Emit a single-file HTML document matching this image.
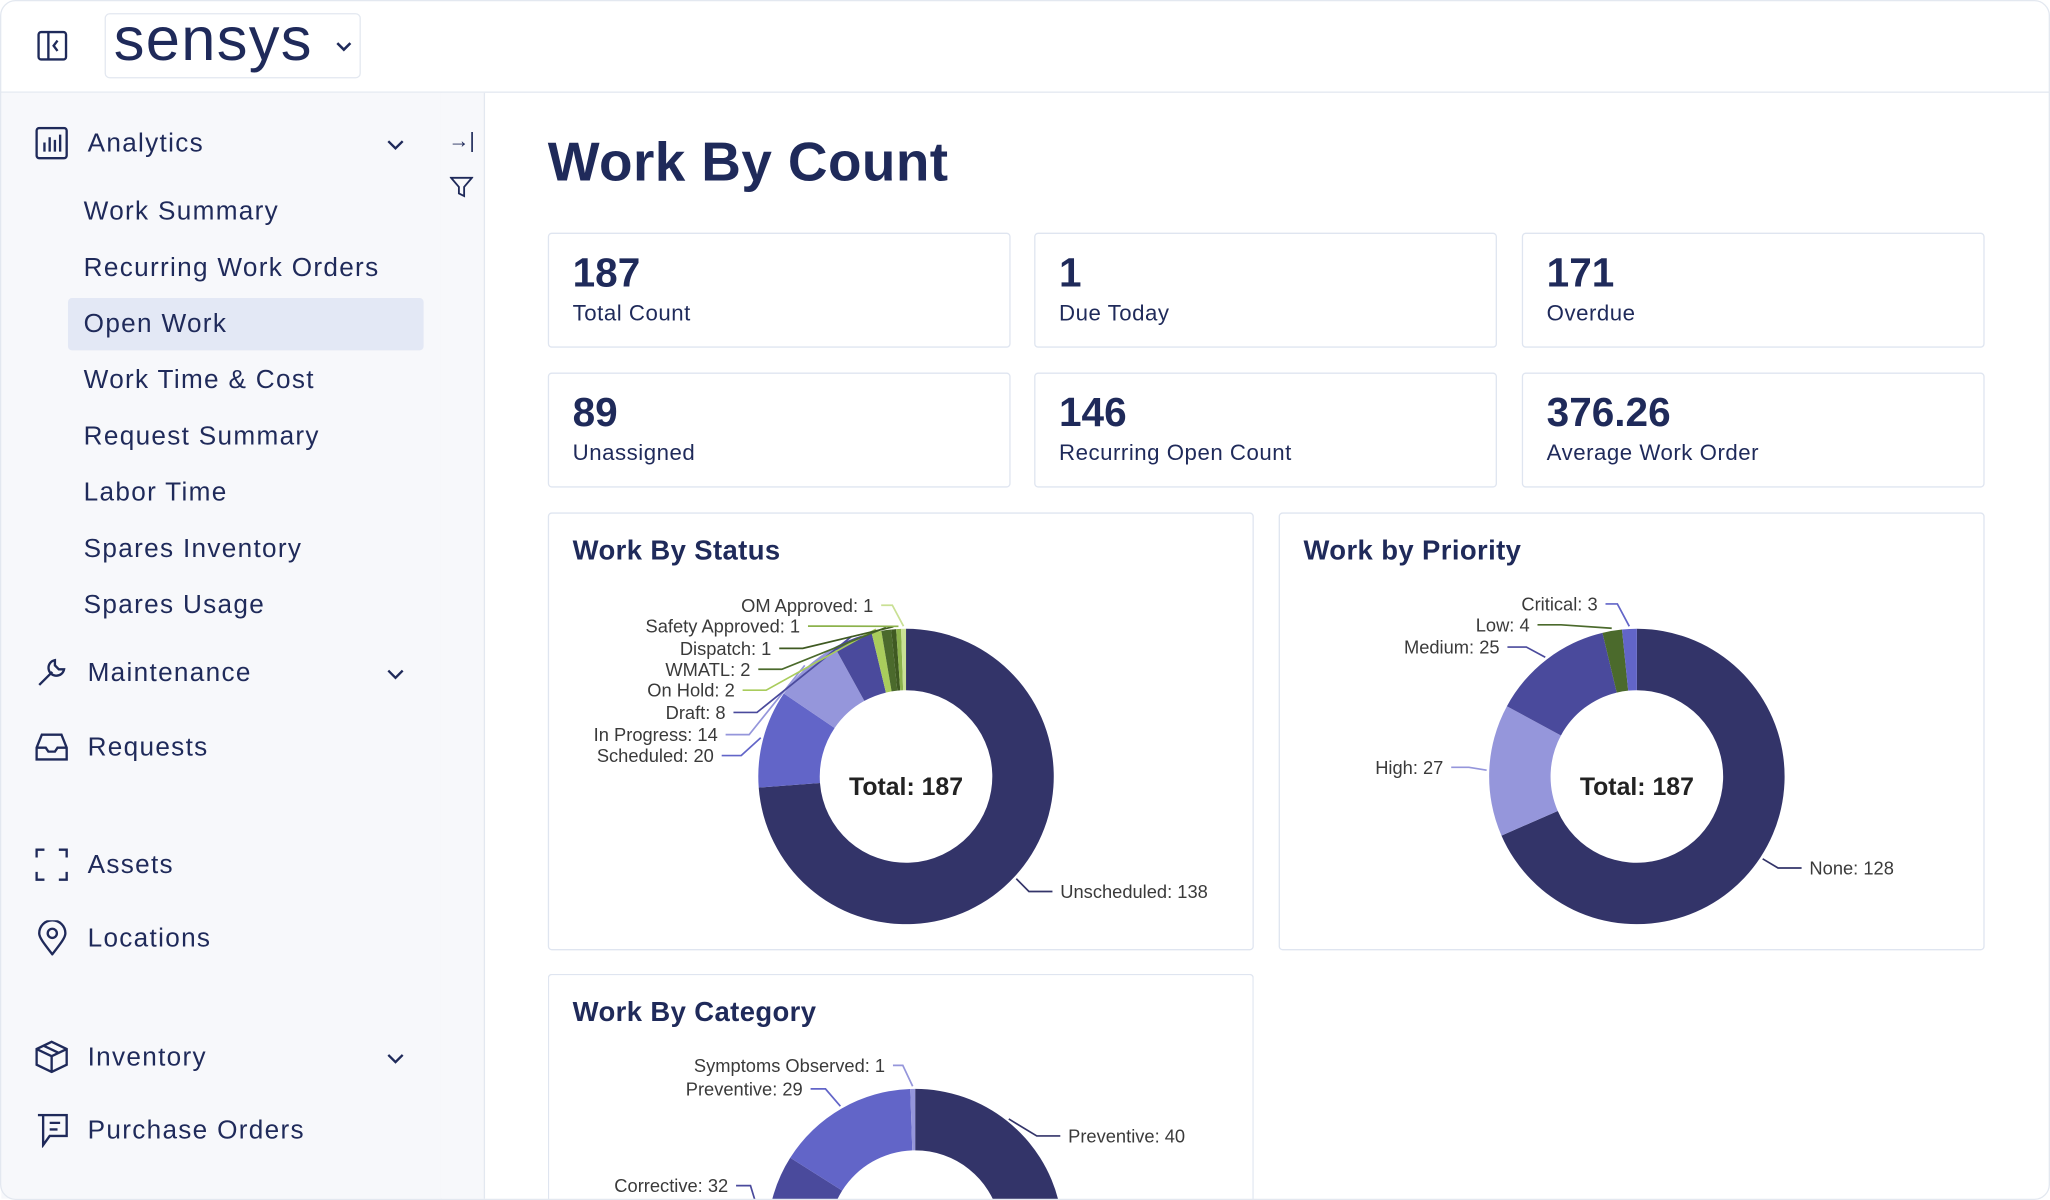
<!DOCTYPE html>
<html><head><meta charset="utf-8"><style>
html,body{margin:0;padding:0;width:2050px;height:1200px;overflow:hidden;background:#fff}
#root{position:absolute;left:0;top:0;width:1568px;height:918px;overflow:hidden;transform:scale(1.30740,1.30719);transform-origin:0 0;font-family:"Liberation Sans",sans-serif;color:#1f2a5a;background:#fff}
.abs{position:absolute}
.nav{position:absolute;font-size:20px;letter-spacing:1px;color:#1f2a5a}
.sub{position:absolute;left:64px;font-size:20px;letter-spacing:1px;color:#1f2a5a}
.card{position:absolute;border:1px solid #dfe5f0;border-radius:3px;background:#fff;box-sizing:border-box}
.num{position:absolute;left:18px;top:12px;font-size:31px;font-weight:bold;color:#1f2a5a}
.lbl{position:absolute;left:18px;top:51px;font-size:17px;letter-spacing:0.4px;color:#1f2a5a}
.ctitle{position:absolute;left:18px;top:17px;font-size:21px;font-weight:bold;color:#1f2a5a;letter-spacing:0.3px}
svg text{font-family:"Liberation Sans",sans-serif}
</style></head><body>
<div id="root">
  <div class="abs" style="left:0;top:0;width:1568px;height:70px;border-bottom:1px solid #e3e8f0"></div>
  <svg class="abs" style="left:28px;top:23px" width="24" height="24" viewBox="0 0 24 24"><rect x="1.5" y="1.5" width="21" height="21" rx="2" fill="none" stroke="#1f2a5a" stroke-width="1.8"/><line x1="9" y1="2" x2="9" y2="22" stroke="#1f2a5a" stroke-width="1.8"/><path d="M16 8 L13 12 L16 16" fill="none" stroke="#1f2a5a" stroke-width="1.8"/></svg>
  <div class="abs" style="left:80px;top:10px;width:196px;height:50px;border:1px solid #e3e8f0;border-radius:4px;box-sizing:border-box"></div>
  <div class="abs" style="left:87px;top:2px;font-size:47px;line-height:56px;color:#1f2a5a;letter-spacing:1px">sensys</div>
  <svg class="abs" style="left:256px;top:31px" width="14" height="10"><path d="M2 2 L7 7 L12 2" fill="none" stroke="#1f2a5a" stroke-width="2"/></svg>

  <div class="abs" style="left:1px;top:71px;width:336px;height:846px;background:#f7f8fb;border-right:1px solid #e3e8f0"></div>
  <div class="abs" style="left:337px;top:71px;width:33px;height:846px;background:#f7f8fb;border-right:1px solid #e3e8f0"></div>
  <div class="abs" style="left:343px;top:100px;font-size:16px;color:#1f2a5a">→|</div>
  <svg class="abs" style="left:344px;top:134px" width="18" height="18"><path d="M1 2 H17 L11 9 V16 L7 14 V9 Z" fill="none" stroke="#1f2a5a" stroke-width="1.4"/></svg>

  <svg class="abs" style="left:27px;top:97px" width="25" height="25"><rect x="1" y="1" width="23" height="23" rx="2" fill="none" stroke="#1f2a5a" stroke-width="1.8"/><path d="M7 19V12M11 19V8M15 19V10M19 19V6" stroke="#1f2a5a" stroke-width="1.8"/></svg>
  <div class="nav" style="left:67px;top:99px">Analytics</div>
  <svg class="abs" style="left:295px;top:106px" width="15" height="10"><path d="M2 2 L7.5 7.5 L13 2" fill="none" stroke="#1f2a5a" stroke-width="1.8"/></svg>
  <div class="abs" style="left:52px;top:228px;width:272px;height:40px;background:#e3e8f5;border-radius:3px"></div>
  <div class="sub" style="top:151px">Work Summary</div>
  <div class="sub" style="top:194px">Recurring Work Orders</div>
  <div class="sub" style="top:237px">Open Work</div>
  <div class="sub" style="top:280px">Work Time &amp; Cost</div>
  <div class="sub" style="top:323px">Request Summary</div>
  <div class="sub" style="top:366px">Labor Time</div>
  <div class="sub" style="top:409px">Spares Inventory</div>
  <div class="sub" style="top:452px">Spares Usage</div>

  <svg class="abs" style="left:27px;top:502px" width="25" height="25"><path d="M3 22 L13 12 M15 3 A6 6 0 1 0 22 10 L18 10 L15 7 Z" fill="none" stroke="#1f2a5a" stroke-width="1.8"/></svg>
  <div class="nav" style="left:67px;top:504px">Maintenance</div>
  <svg class="abs" style="left:295px;top:511px" width="15" height="10"><path d="M2 2 L7.5 7.5 L13 2" fill="none" stroke="#1f2a5a" stroke-width="1.8"/></svg>
  <svg class="abs" style="left:27px;top:560px" width="25" height="23"><path d="M1 12 L5 2 H20 L24 12 V21 H1 Z M1 12 H8 L10 15 H15 L17 12 H24" fill="none" stroke="#1f2a5a" stroke-width="1.8"/></svg>
  <div class="nav" style="left:67px;top:561px">Requests</div>
  <svg class="abs" style="left:27px;top:649px" width="25" height="25"><path d="M1 7V1H7M18 1H24V7M24 18V24H18M7 24H1V18" fill="none" stroke="#1f2a5a" stroke-width="1.8"/></svg>
  <div class="nav" style="left:67px;top:651px">Assets</div>
  <svg class="abs" style="left:29px;top:704px" width="22" height="27"><path d="M11 26 C4 17 1 13 1 10 A10 10 0 0 1 21 10 C21 13 18 17 11 26 Z" fill="none" stroke="#1f2a5a" stroke-width="1.8"/><circle cx="11" cy="10" r="3.5" fill="none" stroke="#1f2a5a" stroke-width="1.8"/></svg>
  <div class="nav" style="left:67px;top:707px">Locations</div>
  <svg class="abs" style="left:27px;top:796px" width="25" height="25"><path d="M12.5 1 L24 6.5 V18.5 L12.5 24 L1 18.5 V6.5 Z M1 6.5 L12.5 12 L24 6.5 M12.5 12 V24 M6.5 4 L18 9.5" fill="none" stroke="#1f2a5a" stroke-width="1.8"/></svg>
  <div class="nav" style="left:67px;top:798px">Inventory</div>
  <svg class="abs" style="left:295px;top:805px" width="15" height="10"><path d="M2 2 L7.5 7.5 L13 2" fill="none" stroke="#1f2a5a" stroke-width="1.8"/></svg>
  <svg class="abs" style="left:28px;top:852px" width="24" height="26"><path d="M5 1 H23 V17 H10 L5 24 Z M1 1 H5 V24 M10 7 H18 M10 12 H16" fill="none" stroke="#1f2a5a" stroke-width="1.8"/></svg>
  <div class="nav" style="left:67px;top:854px">Purchase Orders</div>

  <div class="abs" style="left:419px;top:100px;font-size:42px;font-weight:bold;color:#1f2a5a;letter-spacing:0.3px">Work By Count</div>

  <div class="card" style="left:419px;top:178px;width:354px;height:88px"><div class="num">187</div><div class="lbl">Total Count</div></div>
  <div class="card" style="left:791px;top:178px;width:354px;height:88px"><div class="num">1</div><div class="lbl">Due Today</div></div>
  <div class="card" style="left:1164px;top:178px;width:354px;height:88px"><div class="num">171</div><div class="lbl">Overdue</div></div>
  <div class="card" style="left:419px;top:285px;width:354px;height:88px"><div class="num">89</div><div class="lbl">Unassigned</div></div>
  <div class="card" style="left:791px;top:285px;width:354px;height:88px"><div class="num">146</div><div class="lbl">Recurring Open Count</div></div>
  <div class="card" style="left:1164px;top:285px;width:354px;height:88px"><div class="num">376.26</div><div class="lbl">Average Work Order</div></div>

  <div class="card" style="left:419px;top:392px;width:540px;height:335px"><div class="ctitle">Work By Status</div></div>
  <div class="card" style="left:978px;top:392px;width:540px;height:335px"><div class="ctitle">Work by Priority</div></div>
  <div class="card" style="left:419px;top:745px;width:540px;height:173px;border-bottom:none;border-radius:3px 3px 0 0"><div class="ctitle">Work By Category</div></div>

  <svg id="charts" class="abs" style="left:0;top:0" width="1568" height="918"></svg>
  <div class="abs" style="left:0;top:0;width:1568px;height:918px;border:1px solid #e3e8f0;border-radius:12px;box-sizing:border-box;pointer-events:none"></div>
</div>
<script>
// Work By Status
const statusLabels = ["Unscheduled","Scheduled","In Progress","Draft","On Hold","WMATL","Dispatch","Safety Approved","OM Approved"];
const statusValues = [138,20,14,8,2,2,1,1,1];
const statusColors = ["#333469","#6265c8","#9596db","#4a4a9c","#a9cc5c","#4b6a2c","#3f5a22","#8cb24c","#c9e094"];
// Work by Priority
const priorityLabels = ["None","High","Medium","Low","Critical"];
const priorityValues = [128,27,25,4,3];
const priorityColors = ["#333469","#9596db","#4a4a9c","#4b6a2c","#6265c8"];
// Work By Category
const categoryLabels = ["Preventive","Other","Corrective","Preventive","Symptoms Observed"];
const categoryValues = [40,85,32,29,1];
const categoryColors = ["#333469","#333469","#4a4a9c","#6265c8","#9596db"];

// layout (pixel) for labels: [anchorX, y, side] per slice
const statusLayout = [[811,682,"start"],[546,578,"end"],[549,562,"end"],[555,545,"end"],[562,528,"end"],[574,512,"end"],[590,496,"end"],[612,479,"end"],[668,463,"end"]];
const priorityLayout = [[1384,664,"start"],[1104,587,"end"],[1147,495,"end"],[1170,478,"end"],[1222,462,"end"]];
const categoryLayout = [[817,869,"start"],null,[557,907,"end"],[614,833,"end"],[677,815,"end"]];

const NS = "http://www.w3.org/2000/svg";
const svg = document.getElementById("charts");
function pt(cx,cy,r,a){return [cx+r*Math.sin(a), cy-r*Math.cos(a)];}

function donut(name,cx,cy,R,r,labels,values,colors,layout,clipBottom){
  const total = values.reduce((s,v)=>s+v,0);
  const g = document.createElementNS(NS,"g");
  
  
  svg.appendChild(g);
  let a0 = 0;
  values.forEach((v,i)=>{
    const a1 = a0 + v/total*2*Math.PI;
    const large = (a1-a0) > Math.PI ? 1 : 0;
    const p1=pt(cx,cy,R,a0),p2=pt(cx,cy,R,a1),p3=pt(cx,cy,r,a1),p4=pt(cx,cy,r,a0);
    const path=document.createElementNS(NS,"path");
    path.setAttribute("d",`M${p1[0]},${p1[1]} A${R},${R} 0 ${large} 1 ${p2[0]},${p2[1]} L${p3[0]},${p3[1]} A${r},${r} 0 ${large} 0 ${p4[0]},${p4[1]} Z`);
    path.setAttribute("fill",colors[i]);
    
    
    g.appendChild(path);
    const lay = layout[i];
    if(lay){
      const mid=(a0+a1)/2;
      const pa=pt(cx,cy,R+2,mid);
      const ex = lay[2]==="start" ? lay[0]-6 : lay[0]+6;
      const ex2 = lay[2]==="start" ? ex-18 : ex+Math.min(18,Math.abs(pa[0]-ex)*0.5);
      const line=document.createElementNS(NS,"polyline");
      line.setAttribute("points",`${ex},${lay[1]} ${ex2},${lay[1]} ${pa[0]},${pa[1]}`);
      line.setAttribute("fill","none");
      line.setAttribute("stroke",colors[i]);
      line.setAttribute("stroke-width","1.3");
      
      
      g.appendChild(line);
      const t=document.createElementNS(NS,"text");
      t.setAttribute("x",lay[0]);t.setAttribute("y",lay[1]+5);
      t.setAttribute("text-anchor",lay[2]);
      t.setAttribute("font-size","14");
      t.setAttribute("fill","#3a3a3a");
      t.textContent = labels[i]+": "+values[i];
      
      
      g.appendChild(t);
    }
    a0=a1;
  });
  if(!clipBottom){
    const t=document.createElementNS(NS,"text");
    t.setAttribute("x",cx);t.setAttribute("y",cy+14);
    t.setAttribute("text-anchor","middle");t.setAttribute("font-size","19");t.setAttribute("font-weight","bold");t.setAttribute("fill","#222");
    t.textContent="Total: "+total;
    
    
    g.appendChild(t);
  }
}
donut("status-donut",693,594,113,66,statusLabels,statusValues,statusColors,statusLayout,false);
donut("priority-donut",1252,594,113,66,priorityLabels,priorityValues,priorityColors,priorityLayout,false);
donut("category-donut",700,946,113,66,categoryLabels,categoryValues,categoryColors,categoryLayout,true);
</script>
</body></html>
